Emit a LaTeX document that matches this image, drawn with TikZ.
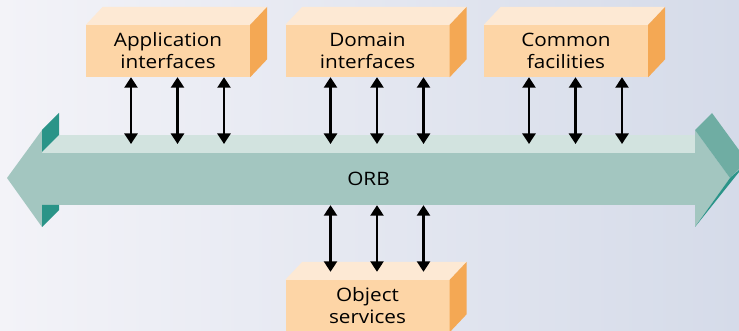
\documentclass[tikz,border=0pt]{standalone}
\usepackage{fontspec}
\setmainfont{Open Sans}[FakeStretch=1.12]
\usetikzlibrary{arrows.meta}
\definecolor{bgl}{HTML}{F3F3F8}
\definecolor{bgr}{HTML}{D5DBE9}
\definecolor{orbbody}{HTML}{A3C6C0}
\definecolor{orbstrip}{HTML}{D2E3DF}
\definecolor{darkteal}{HTML}{2A9488}
\definecolor{midteal}{HTML}{6FADA3}
\definecolor{boxfront}{HTML}{FDD5A6}
\definecolor{boxtop}{HTML}{FDE9D4}
\definecolor{boxside}{HTML}{F4A854}
\newcommand\boxfaces[1]{%
  \fill[boxtop] (#1.north west) -- ++(17,-18) -- ([shift={(17,-18)}]#1.north east) -- (#1.north east) -- cycle;
  \fill[boxside] (#1.north east) -- ++(17,-18) -- ([shift={(17,-18)}]#1.south east) -- (#1.south east) -- cycle;}
\begin{document}
\begin{tikzpicture}[x=1pt,y=-1pt,
  box/.style={rectangle, fill=boxfront, minimum width=164pt, minimum height=52pt, inner sep=0pt, align=center, font=\fontsize{18.5}{22}\selectfont},
  orbpart/.style={rectangle, minimum width=653pt, inner sep=0pt},
  biarrow/.style={line width=2.5pt, {Triangle[width=13pt,length=10.5pt]}-{Triangle[width=13pt,length=10.5pt]}},
]
\fill[left color=bgl, right color=bgr] (0,0) rectangle (739,331);
\useasboundingbox (0,0) rectangle (739,331);

% ORB bar
\node[orbpart, fill=orbstrip, minimum height=18pt] (strip) at (368.5,144) {};
\node[orbpart, fill=orbbody, minimum height=52pt, font=\fontsize{18.5}{22}\selectfont] (orb) at (368.5,179) {ORB};
% left head
\fill[orbbody] (42,130) -- (7,178) -- (42,227) -- cycle;
\fill[darkteal] (42,130) -- (59,113) -- (59,135) -- (42,152) -- cycle;
\fill[darkteal] (42,205) -- (59,205) -- (59,210) -- (42,227) -- cycle;
% right head
\fill[orbbody] (695,130) -- (730,178) -- (695,227) -- cycle;
\fill[midteal] (695,130) -- (712,113) -- (747,161) -- (730,178) -- cycle;
\fill[darkteal] (730,178) -- (739,170) -- (739,172) -- (695,227) -- cycle;

% boxes
\node[box] (app) at (168,51) {Application\\interfaces};
\node[box] (dom) at (367.5,51) {Domain\\interfaces};
\node[box] (com) at (566,51) {Common\\facilities};
\node[box] (obj) at (367.5,306) {Object\\services};
\boxfaces{app}
\boxfaces{dom}
\boxfaces{com}
\boxfaces{obj}

% arrows
\foreach \b in {app,dom,com}{
  \foreach \dx in {-37,9.5,56}{
    \path ([xshift=\dx pt]\b.south) coordinate (t);
    \draw[biarrow] (t) -- (t |- strip.center);
  }
}
\foreach \dx in {-37,9.5,56}{
  \path ([xshift=\dx pt, yshift=8pt]obj.north) coordinate (t);
  \draw[biarrow] (t |- orb.south) -- (t);
}
\end{tikzpicture}
\end{document}
